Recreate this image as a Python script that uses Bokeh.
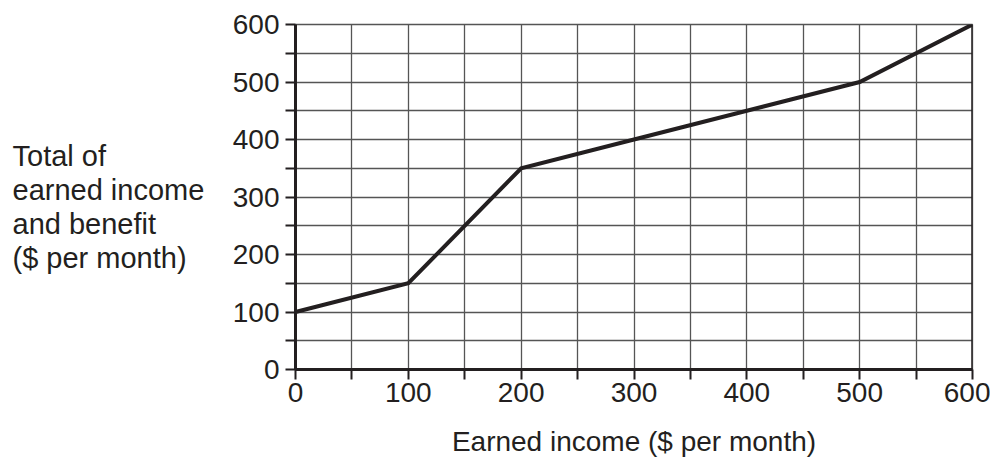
from bokeh.plotting import figure
from bokeh.layouts import row
from bokeh.models import FixedTicker, Range1d, Span
from bokeh.core.properties import value
from bokeh.embed import file_html
from bokeh.resources import INLINE

earned = [0, 100, 200, 300, 400, 500, 600]
total = [100, 150, 350, 400, 450, 500, 600]
tick_values = [0, 50, 100, 150, 200, 250, 300, 350, 400, 450, 500, 550, 600]
labeled_ticks = [0, 100, 200, 300, 400, 500, 600]
x_title = "Earned income ($ per month)"
y_title_lines = ["Total of", "earned income", "and benefit", "($ per month)"]

INK = "#231f20"
FONT = "Liberation Sans"
H = 459
LEFT_W = 220
BORDER_TOP = 24
BORDER_BOTTOM = 90
FRAME_H = H - BORDER_TOP - BORDER_BOTTOM

yr = Range1d(0, 600)

# ---- left panel holding the multi-line, left-aligned vertical-axis title ----
side = figure(width=LEFT_W, height=H, output_backend="svg", toolbar_location=None,
              x_range=Range1d(0, LEFT_W), y_range=yr,
              min_border_left=0, min_border_right=0,
              min_border_top=BORDER_TOP, min_border_bottom=BORDER_BOTTOM,
              x_axis_type=None, y_axis_type=None)
side.grid.visible = False
side.outline_line_color = None
side.background_fill_color = "white"
side.border_fill_color = "white"
first_baseline = 155   # px from top of page
line_step = 34
px_to_val = (yr.end - yr.start) / FRAME_H
frame_bottom = BORDER_TOP + FRAME_H
side.text(x=[12] * len(y_title_lines),
          y=[(frame_bottom - (first_baseline + line_step * i)) * px_to_val
             for i in range(len(y_title_lines))],
          text=y_title_lines, text_font=value(FONT), text_font_size="29px",
          text_color=INK, text_baseline="alphabetic", text_align="left")

# ---- main chart ----
p = figure(width=990 - LEFT_W, height=H, output_backend="svg", toolbar_location=None,
           x_range=Range1d(earned[0], earned[-1]), y_range=yr,
           min_border_left=295 - LEFT_W, min_border_right=18,
           min_border_top=BORDER_TOP, min_border_bottom=BORDER_BOTTOM)

p.line(earned, total, line_color=INK, line_width=4, line_join="miter")

overrides = {t: ("" if t not in labeled_ticks else str(t)) for t in tick_values}
for ax in (p.xaxis[0], p.yaxis[0]):
    ax.ticker = FixedTicker(ticks=tick_values)
    ax.major_label_overrides = overrides
    ax.minor_tick_line_color = None
    ax.major_tick_in = 0
    ax.major_tick_out = 10
    ax.major_tick_line_width = 2
    ax.major_tick_line_color = INK
    ax.axis_line_width = 3
    ax.axis_line_color = INK
    ax.major_label_text_font = FONT
    ax.major_label_text_font_size = "28px"
    ax.major_label_text_color = INK

p.xaxis.major_label_standoff = 3
p.yaxis.major_label_standoff = 6
p.xaxis.axis_label = x_title
p.xaxis.axis_label_text_font = FONT
p.xaxis.axis_label_text_font_size = "28px"
p.xaxis.axis_label_text_font_style = "normal"
p.xaxis.axis_label_text_color = INK
p.xaxis.axis_label_standoff = 21

for g in (p.xgrid[0], p.ygrid[0]):
    g.ticker = FixedTicker(ticks=tick_values)
    g.grid_line_color = "#555555"
    g.grid_line_width = 1.3

p.outline_line_color = "#555555"
p.outline_line_width = 1.3
p.add_layout(Span(location=earned[-1], dimension="height", line_color=INK, line_width=2.5))

p.background_fill_color = "white"
p.border_fill_color = "white"

layout = row(side, p, spacing=0)
open("out.html", "w").write(file_html(layout, INLINE))
